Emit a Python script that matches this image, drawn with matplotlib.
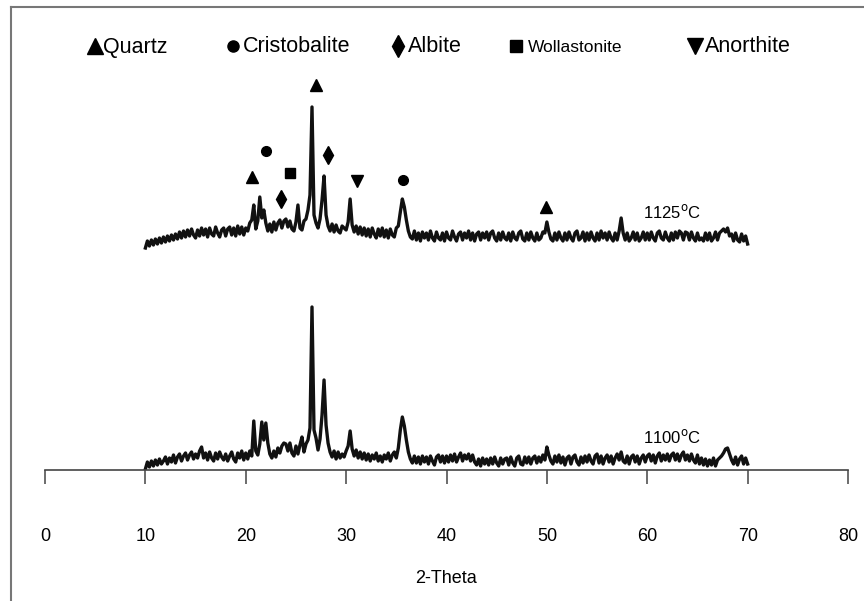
import numpy as np
import matplotlib
matplotlib.use("Agg")
import matplotlib.pyplot as plt
from matplotlib.lines import Line2D

plt.rcParams["font.family"] = ["Liberation Sans", "DejaVu Sans"]

# 2-theta grid (degrees), 0.2 deg step
two_theta = np.round(np.arange(10.0, 70.0001, 0.2), 1)

# Intensity (a.u.) of the sample fired at 1100 C
i_1100 = [
    1, 8, 3, 9, 4, 10, 5, 11, 6, 9,
    13, 6, 12, 8, 15, 7, 13, 16, 9, 14,
    17, 10, 15, 18, 11, 16, 12, 19, 23, 12,
    17, 10, 18, 12, 9, 17, 11, 18, 13, 10,
    16, 9, 14, 18, 11, 8, 17, 12, 19, 10,
    17, 11, 19, 14, 49, 19, 15, 26, 48, 30,
    47, 27, 16, 12, 19, 13, 22, 17, 24, 27,
    26, 19, 27, 17, 14, 24, 16, 25, 33, 18,
    26, 30, 42, 163, 40, 32, 20, 31, 55, 90,
    45, 27, 18, 13, 19, 11, 18, 12, 16, 13,
    19, 24, 39, 21, 14, 20, 12, 18, 11, 17,
    10, 16, 9, 15, 11, 17, 9, 14, 8, 15,
    11, 17, 9, 15, 18, 12, 22, 40, 53, 44,
    30, 18, 11, 7, 14, 7, 13, 6, 14, 8,
    13, 6, 14, 9, 5, 13, 15, 8, 14, 7,
    14, 8, 15, 9, 16, 8, 13, 17, 9, 15,
    11, 16, 9, 15, 8, 5, 11, 4, 12, 6,
    11, 5, 12, 6, 13, 7, 4, 12, 6, 11,
    12, 5, 13, 7, 4, 12, 14, 6, 5, 13,
    7, 13, 6, 12, 14, 7, 13, 8, 15, 10,
    23, 15, 9, 6, 14, 8, 15, 7, 13, 5,
    12, 14, 6, 13, 15, 8, 5, 13, 7, 14,
    8, 15, 9, 6, 14, 16, 7, 14, 6, 12,
    15, 8, 14, 6, 12, 16, 10, 18, 9, 7,
    14, 6, 13, 15, 8, 14, 6, 12, 15, 8,
    14, 16, 9, 15, 7, 14, 17, 9, 15, 10,
    16, 9, 15, 17, 10, 16, 9, 15, 18, 10,
    15, 9, 16, 10, 7, 15, 6, 12, 5, 11,
    4, 10, 5, 12, 4, 10, 12, 14, 17, 21,
    22, 16, 10, 6, 13, 5, 11, 14, 6, 12,
    6,
]

# Intensity (a.u.) of the sample fired at 1125 C
i_1125 = [
    2, 9, 4, 10, 5, 11, 6, 12, 7, 13,
    8, 14, 9, 15, 10, 16, 11, 18, 12, 19,
    13, 20, 14, 21, 15, 12, 20, 14, 22, 15,
    21, 13, 22, 16, 14, 23, 17, 13, 20, 22,
    14, 21, 23, 15, 22, 14, 24, 16, 23, 15,
    22, 19, 27, 30, 45, 21, 29, 53, 32, 40,
    27, 19, 26, 18, 28, 20, 27, 30, 22, 29,
    31, 23, 29, 21, 19, 28, 45, 22, 20, 29,
    31, 40, 55, 143, 35, 27, 22, 31, 50, 74,
    35, 24, 19, 26, 18, 25, 19, 17, 24, 22,
    20, 28, 51, 25, 18, 24, 16, 23, 15, 22,
    14, 21, 13, 22, 16, 12, 21, 14, 22, 13,
    20, 12, 21, 15, 13, 22, 24, 38, 51, 43,
    30, 19, 13, 11, 19, 10, 17, 9, 18, 12,
    17, 10, 19, 12, 9, 18, 12, 10, 17, 9,
    18, 12, 10, 19, 13, 9, 16, 18, 10, 17,
    12, 19, 10, 17, 9, 16, 18, 10, 17, 12,
    18, 10, 17, 19, 12, 9, 17, 10, 18, 12,
    10, 17, 9, 18, 12, 10, 17, 19, 11, 9,
    17, 10, 18, 12, 9, 17, 10, 12, 18, 17,
    28, 18, 11, 9, 17, 10, 18, 12, 9, 17,
    10, 18, 12, 9, 17, 19, 10, 12, 18, 9,
    17, 10, 18, 12, 9, 17, 10, 19, 12, 17,
    10, 18, 12, 9, 17, 10, 19, 32, 17, 10,
    17, 9, 12, 18, 10, 17, 9, 12, 18, 10,
    17, 10, 18, 12, 9, 17, 19, 12, 10, 18,
    12, 9, 17, 10, 18, 12, 19, 17, 10, 18,
    17, 10, 18, 12, 9, 17, 10, 12, 9, 17,
    10, 17, 9, 12, 18, 10, 17, 19, 21, 18,
    22, 14, 16, 9, 17, 10, 8, 16, 9, 14,
    6,
]

# vertical shift applied to the 1125 C pattern
offset_1125 = 220

# phase markers placed above the 1125 C pattern: (2-theta, height, phase)
phase_marks = [
    (27.0, 385, "Quartz"),
    (22.0, 319, "Cristobalite"),
    (28.2, 315, "Albite"),
    (20.6, 293, "Quartz"),
    (24.4, 297, "Wollastonite"),
    (23.5, 271, "Albite"),
    (31.1, 289, "Anorthite"),
    (35.7, 290, "Cristobalite"),
    (49.9, 263, "Quartz"),
]

phases = ["Quartz", "Cristobalite", "Albite", "Wollastonite", "Anorthite"]
phase_marker = {"Quartz": "^", "Cristobalite": "o", "Albite": "d",
                "Wollastonite": "s", "Anorthite": "v"}
phase_size = {"Quartz": 8, "Cristobalite": 7, "Albite": 9,
              "Wollastonite": 7, "Anorthite": 8}

temp_labels = ["1125$^{\\rm o}$C", "1100$^{\\rm o}$C"]
x_ticks = [0, 10, 20, 30, 40, 50, 60, 70, 80]

W, H = 864, 601
fig = plt.figure(figsize=(W / 100, H / 100), dpi=100)


def fx(px):
    return px / W


def fy(py):
    return 1 - py / H


ax = fig.add_axes([fx(45), fy(470), fx(848) - fx(45), fy(60) - fy(470)])
ax.set_xlim(0, 80)
ax.set_ylim(0, 410)

ax.plot(two_theta, i_1100, color="#111111", lw=2.4)
ax.plot(two_theta, np.array(i_1125) + offset_1125, color="#111111", lw=2.4)

for x, y, ph in phase_marks:
    ax.plot(x, y, marker=phase_marker[ph], ms=phase_size[ph], color="black",
            ls="none")

ax.text(59.6, 258, temp_labels[0], fontsize=12, va="center", ha="left")
ax.text(59.6, 33, temp_labels[1], fontsize=12, va="center", ha="left")

for side in ("left", "top", "right"):
    ax.spines[side].set_visible(False)
ax.spines["bottom"].set_color("#444444")
ax.spines["bottom"].set_linewidth(1.2)
ax.set_yticks([])
ax.set_xticks(x_ticks)
ax.tick_params(axis="x", direction="out", length=10, width=1.1,
               colors="#444444", labelcolor="black", labelsize=13, pad=32)
ax.set_xlabel("2-Theta", fontsize=13, labelpad=18)

# legend row across the top
legend_pos = {"Quartz": (95, 103), "Cristobalite": (233, 243),
              "Albite": (398, 408), "Wollastonite": (516, 528),
              "Anorthite": (695, 705)}
legend_ms = {"Quartz": 11, "Cristobalite": 8, "Albite": 11,
             "Wollastonite": 9, "Anorthite": 11}
for ph in phases:
    mx, tx = legend_pos[ph]
    fig.add_artist(Line2D([fx(mx)], [fy(46)], marker=phase_marker[ph],
                          ms=legend_ms[ph], color="black", ls="none",
                          transform=fig.transFigure))
    fs = 12.5 if ph == "Wollastonite" else 15.5
    fig.text(fx(tx), fy(47), ph, fontsize=fs, va="center", ha="left")

# chart-area border (top and left edges)
fig.add_artist(Line2D([fx(11), fx(864)], [fy(7), fy(7)], color="#777777",
                      lw=1.5, transform=fig.transFigure))
fig.add_artist(Line2D([fx(11), fx(11)], [fy(7), fy(601)], color="#777777",
                      lw=1.5, transform=fig.transFigure))

fig.savefig("out.png", dpi=100)
